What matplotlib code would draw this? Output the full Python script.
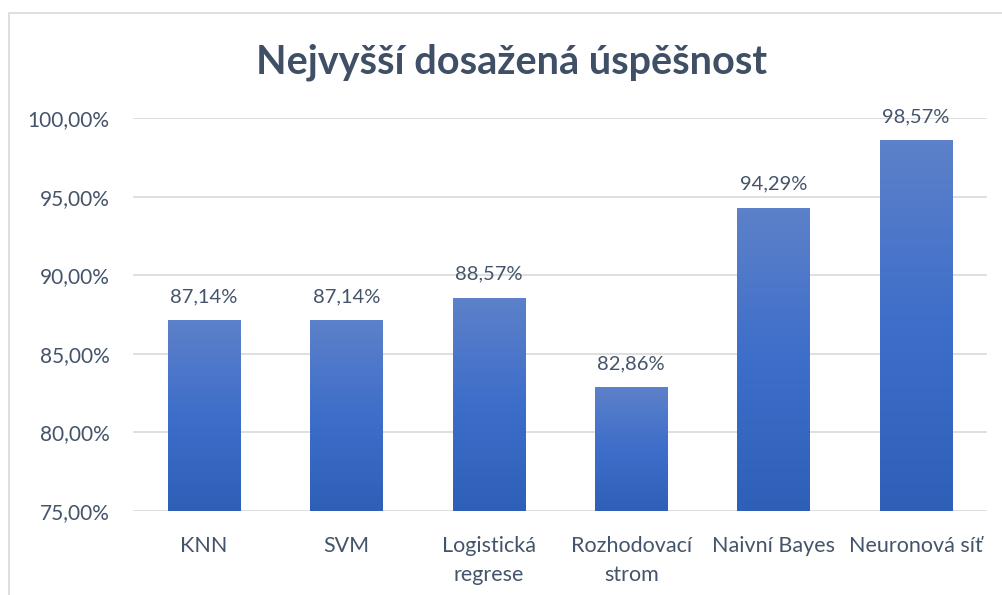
import numpy as np
import matplotlib.pyplot as plt
from matplotlib.patches import Rectangle
from matplotlib.colors import LinearSegmentedColormap

categories = ["KNN", "SVM", "Logistická\nregrese", "Rozhodovací\nstrom", "Naivní Bayes", "Neuronová síť"]
values = [87.14, 87.14, 88.57, 82.86, 94.29, 98.57]
yticks = [75, 80, 85, 90, 95, 100]

plt.rcParams['font.family'] = ['Lato', 'DejaVu Sans']
txt = '#44546A'

fig = plt.figure(figsize=(10.02, 5.95), dpi=100)
ax = fig.add_axes([133/1002, 1 - 511/595, (987-133)/1002, (511-118)/595])

# outer chart frame (cropped at right/bottom)
fig.patches.append(Rectangle((9/1002, -0.1), 1.1, 1 - 13/595 + 0.1, transform=fig.transFigure,
                             fill=False, edgecolor='#D9D9D9', linewidth=1.2))

cmap = LinearSegmentedColormap.from_list('g', ['#2E60B8', '#3D6ECA', '#5D81C9'])
x = np.arange(len(categories))
w = 0.506
bars = ax.bar(x, np.array(values) - 75, width=w, bottom=75, color='none', zorder=3)
grad = np.linspace(0, 1, 256).reshape(-1, 1)
for b, v in zip(bars, values):
    x0 = b.get_x()
    im = ax.imshow(grad, cmap=cmap, origin='lower', aspect='auto',
                   extent=[x0, x0 + w, 75, v], zorder=3)
    im.set_clip_path(b)
    ax.text(b.get_x() + w/2, v + 0.95, f"{v:.2f}%".replace('.', ','), ha='center', va='bottom',
            fontsize=14.5, color=txt, zorder=4)

ax.set_xlim(-0.5, len(categories) - 0.5)
ax.set_ylim(75, 100)
ax.set_yticks(yticks)
ax.set_yticklabels([f"{t:.2f}%".replace('.', ',') for t in yticks])
ax.set_xticks(x)
ax.set_xticklabels(categories, linespacing=1.55)
ax.tick_params(axis='y', length=0, pad=17, labelsize=15, labelcolor=txt)
ax.tick_params(axis='x', length=0, pad=18, labelsize=15.5, labelcolor=txt)
ax.grid(axis='y', color='#D9D9D9', linewidth=1.2, zorder=0)
for s in ax.spines.values():
    s.set_visible(False)

fig.text(512/1002, 1 - 62/595, "Nejvyšší dosažená úspěšnost", ha='center', va='center',
         fontsize=28.5, fontweight='bold', color='#3F4F66')

fig.savefig('out.png', dpi=100)
